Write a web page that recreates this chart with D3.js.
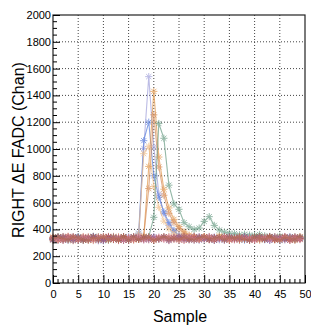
<!DOCTYPE html>
<html><head><meta charset="utf-8">
<script src="https://cdn.jsdelivr.net/npm/d3@7/dist/d3.min.js"></script>
<style>
html,body{margin:0;padding:0;background:#fff;}
text{font-family:"Liberation Sans",Arial,Helvetica,sans-serif;}
</style></head>
<body><svg id="c" width="311" height="330"></svg>
<script>
const samples = d3.range(0, 50);
const xTickLabels = ["0","5","10","15","20","25","30","35","40","45","50"];
const yTickLabels = ["0","200","400","600","800","1000","1200","1400","1600","1800","2000"];
const xTitle = "Sample";
const yTitle = "RIGHT \u0394E FADC (Chan)";

// pulse channels
const lavender = [332,318,345,327,340,321,336,329,344,315, 338,326,341,330,322,347,333,335,1005,1540, 1015,665,520,430,385,352,341,330,346,325, 338,331,343,322,337,329,345,318,334,340, 327,343,331,319,338,326,344,332,321,336];
const blue     = [325,341,330,318,337,346,322,333,328,343, 316,339,331,324,345,329,336,372,1062,1200, 800,640,530,450,392,352,338,327,344,321, 335,342,318,331,347,326,339,333,320,344, 329,336,323,341,330,317,338,345,326,334];
const orange   = [338,322,347,329,316,341,333,325,344,330, 319,336,348,327,339,321,334,328,345,870, 1430,940,700,560,475,420,382,358,343,331, 346,324,337,352,329,341,333,320,345,336, 327,348,331,339,322,344,330,337,325,341];
const tan      = [319,336,328,344,331,322,340,335,317,346, 329,338,324,342,333,320,337,331,350,705, 1255,866,655,520,450,405,372,350,338,327, 344,331,322,339,346,325,336,341,328,333, 347,320,338,329,343,326,335,340,318,332];
const peach    = [344,327,335,320,339,331,347,323,336,329, 341,318,335,345,326,338,322,366,965,1020, 720,565,462,405,372,350,338,329,344,325, 336,341,327,347,332,320,339,334,345,328, 337,323,342,330,346,321,335,338,327,343];
const green    = [331,345,323,338,327,342,319,336,348,329, 333,321,340,326,344,332,337,330,338,345, 490,1190,1080,730,590,550,450,420,400,410, 460,495,430,395,380,372,368,360,364,358, 355,362,352,346,339,349,341,335,343,337];
// flat channels
const maroon   = [328,341,319,335,346,324,337,330,343,321, 334,347,326,339,318,332,345,327,340,323, 336,329,344,317,338,331,346,322,335,341, 328,343,320,337,330,345,326,339,333,319, 342,329,336,347,324,338,331,321,344,330];
const red      = [340,323,336,348,327,333,319,344,331,338, 325,342,330,317,346,335,322,339,328,343, 321,337,332,345,326,340,318,334,347,329, 341,324,338,331,344,320,335,328,342,337, 323,346,330,339,326,334,345,318,337,329];
const purple   = [322,337,344,329,318,340,333,326,347,335, 320,331,343,338,327,319,342,336,324,330, 345,328,339,321,334,343,327,338,320,346, 331,325,340,334,319,342,329,337,346,324, 333,340,327,318,345,336,322,341,330,338];
const pink     = [335,326,320,342,337,329,345,331,322,339, 348,327,334,341,325,338,330,346,321,336, 328,343,325,337,341,319,335,344,330,323, 339,347,326,333,340,328,321,345,332,338, 319,334,342,327,336,329,347,333,340,324];
const brown    = [330,344,333,325,341,336,327,318,339,332, 345,324,337,329,342,320,344,326,335,341, 319,330,346,328,336,324,340,331,322,337, 345,329,334,341,323,338,332,344,327,320, 339,335,326,343,331,320,339,334,328,346];

const seriesNames  = ["lavender","blue","orange","tan","peach","green","maroon","red","purple","pink","brown"];
const seriesValues = [lavender, blue, orange, tan, peach, green, maroon, red, purple, pink, brown];
const seriesColors = ["#a3a3dc","#5b80de","#e39a4f","#d68e5e","#f0bf88","#6b9e86","#a04858","#c0504a","#8a62a8","#d9849a","#b06a50"];

const svg = d3.select("#c");
const x = d3.scaleLinear().domain([0,50]).range([53,305]);
const y = d3.scaleLinear().domain([0,2000]).range([283,15]);

// grid
const grid = svg.append("g");
grid.selectAll("line.gx").data(d3.range(5,50,5)).enter().append("line")
  .attr("x1",d=>x(d)).attr("x2",d=>x(d)).attr("y1",y(0)).attr("y2",y(2000))
  .attr("stroke","#444").attr("stroke-width",1).attr("stroke-dasharray","1,2");
grid.selectAll("line.gy").data(d3.range(200,2000,200)).enter().append("line")
  .attr("y1",d=>y(d)).attr("y2",d=>y(d)).attr("x1",x(0)).attr("x2",x(50))
  .attr("stroke","#444").attr("stroke-width",1).attr("stroke-dasharray","1,2");

// series
const line = d3.line().x((d,i)=>x(samples[i])).y(d=>y(d));
const r = 3.6;
const star = `M${-r},0L${r},0M0,${-r}L0,${r}M${-r*0.72},${-r*0.72}L${r*0.72},${r*0.72}M${-r*0.72},${r*0.72}L${r*0.72},${-r*0.72}`;
seriesValues.forEach((vals,k)=>{
  const g = svg.append("g").attr("opacity",0.72);
  g.append("path").attr("d",line(vals)).attr("fill","none")
    .attr("stroke",seriesColors[k]).attr("stroke-width",1.1);
  g.selectAll("path.m").data(vals).enter().append("path")
    .attr("transform",(d,i)=>`translate(${x(samples[i])},${y(d)})`)
    .attr("d",star).attr("stroke",seriesColors[k]).attr("stroke-width",1).attr("fill","none");
});

// frame
svg.append("rect").attr("x",x(0)).attr("y",y(2000)).attr("width",x(50)-x(0)).attr("height",y(0)-y(2000))
  .attr("fill","none").attr("stroke","#222").attr("stroke-width",1.2);

// axes
const xAxis = d3.axisBottom(x).tickValues(d3.range(0,51,5)).tickSize(-8).tickPadding(7)
  .tickFormat((d,i)=>xTickLabels[i]);
const gx = svg.append("g").attr("transform",`translate(0,${y(0)})`).call(xAxis);
gx.select(".domain").remove();
gx.selectAll("text").attr("font-size",11).attr("fill","#000");
gx.selectAll("line").attr("stroke","#000");
svg.append("g").selectAll("line").data(d3.range(0,51,1).filter(d=>d%5)).enter().append("line")
  .attr("x1",d=>x(d)).attr("x2",d=>x(d)).attr("y1",y(0)).attr("y2",y(0)-4).attr("stroke","#000");

const yAxis = d3.axisLeft(y).tickValues(d3.range(0,2001,200)).tickSize(-7).tickPadding(2)
  .tickFormat((d,i)=>yTickLabels[i]);
const gy = svg.append("g").attr("transform",`translate(${x(0)},0)`).call(yAxis);
gy.select(".domain").remove();
gy.selectAll("text").attr("font-size",11).attr("fill","#000");
gy.selectAll("line").attr("stroke","#000");
svg.append("g").selectAll("line").data(d3.range(0,2001,50).filter(d=>d%200)).enter().append("line")
  .attr("y1",d=>y(d)).attr("y2",d=>y(d)).attr("x1",x(0)).attr("x2",x(0)+4).attr("stroke","#000");

// titles
svg.append("text").attr("x",180).attr("y",322).attr("text-anchor","middle")
  .attr("font-size",16).text(xTitle);
svg.append("text").attr("transform","translate(24,150) rotate(-90)").attr("text-anchor","middle")
  .attr("font-size",16).text(yTitle);
</script></body></html>
